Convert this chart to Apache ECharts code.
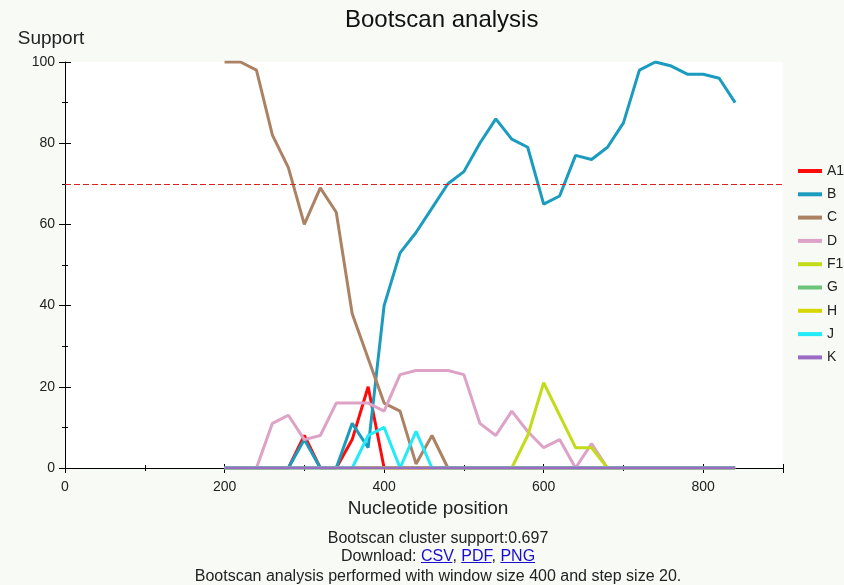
<!DOCTYPE html>
<html>
<head>
<meta charset="utf-8">
<script src="https://cdn.jsdelivr.net/npm/echarts@6/dist/echarts.min.js"></script>
<style>
  html, body { margin: 0; padding: 0; background: #f8faf6; }
  #chart { position: absolute; left: 0; top: 0; width: 844px; height: 585px; }
  .foot { position: absolute; left: 16px; width: 844px; text-align: center;
          font-family: "Liberation Sans", Arial, sans-serif; font-size: 16px; color: #222; line-height: 19px; }
  .foot a { color: #1a0dcc; text-decoration: underline; }
</style>
</head>
<body>
<div id="chart"></div>
<div class="foot" style="top:528px">Bootscan cluster support:0.697</div>
<div class="foot" style="top:546px">Download: <a href="#">CSV</a>, <a href="#">PDF</a>, <a href="#">PNG</a></div>
<div class="foot" style="top:566px">Bootscan analysis performed with window size 400 and step size 20.</div>
<script>
// Nucleotide positions (window midpoints)
const positions = [200,220,240,260,280,300,320,340,360,380,400,420,440,460,480,500,520,540,560,580,600,620,640,660,680,700,720,740,760,780,800,820,840];
const seriesNames = ['A1','B','C','D','F1','G','H','J','K'];
const A1 = [0,0,0,0,0,8,0,0,7,20,0,0,0,0,0,0,0,0,0,0,0,0,0,0,0,0,0,0,0,0,0,0,0];
const B  = [0,0,0,0,0,7,0,0,11,5,40,53,58,64,70,73,80,86,81,79,65,67,77,76,79,85,98,100,99,97,97,96,90];
const C  = [100,100,98,82,74,60,69,63,38,27,16,14,1,8,0,0,0,0,0,0,0,0,0,0,0,0,0,0,0,0,0,0,0];
const D  = [0,0,0,11,13,7,8,16,16,16,14,23,24,24,24,23,11,8,14,9,5,7,0,6,0,0,0,0,0,0,0,0,0];
const F1 = [0,0,0,0,0,0,0,0,0,0,0,0,0,0,0,0,0,0,0,8,21,13,5,5,0,0,0,0,0,0,0,0,0];
const G  = [0,0,0,0,0,0,0,0,0,0,0,0,0,0,0,0,0,0,0,0,0,0,0,0,0,0,0,0,0,0,0,0,0];
const H  = [0,0,0,0,0,0,0,0,0,0,0,0,0,0,0,0,0,0,0,0,0,0,0,0,0,0,0,0,0,0,0,0,0];
const J  = [0,0,0,0,0,0,0,0,0,8,10,0,9,0,0,0,0,0,0,0,0,0,0,0,0,0,0,0,0,0,0,0,0];
const K  = [0,0,0,0,0,0,0,0,0,0,0,0,0,0,0,0,0,0,0,0,0,0,0,0,0,0,0,0,0,0,0,0,0];
const threshold = 70;
const xTicks = [0,200,400,600,800];
const yTicks = [0,20,40,60,80,100];

const colors = ['#ff0a0a','#1b9bbd','#ab8264','#dda2c6','#c2dc1a','#6cc47a','#d6d600','#22eaf8','#9b6cc6'];
const values = [A1,B,C,D,F1,G,H,J,K];
const FONT = '"Liberation Sans", Arial, sans-serif';

const chart = echarts.init(document.getElementById('chart'), null, {renderer:'canvas'});

const series = seriesNames.map((n, i) => {
  const s = {
    name: n,
    type: 'line',
    data: positions.map((p, k) => [p, values[i][k]]),
    symbol: 'none',
    lineStyle: { width: 3, color: colors[i] },
    itemStyle: { color: colors[i] },
    z: 2 + i,
    animation: false
  };
  if (i === 0) {
    s.markLine = {
      silent: true, symbol: 'none', label: { show: false },
      lineStyle: { color: '#e02020', type: [6, 3], width: 1 },
      data: [{ yAxis: threshold }],
      animation: false
    };
  }
  return s;
});

const fontC = '#222';
chart.setOption({
  animation: false,
  textStyle: { fontFamily: FONT },
  title: {
    text: 'Bootscan analysis', left: 340, top: 3,
    textStyle: { fontFamily: FONT, fontSize: 24, fontWeight: 'normal', color: '#111' }
  },
  grid: { left: 65, right: 61, top: 62, bottom: 117, show: true, backgroundColor: '#ffffff', borderWidth: 0 },
  legend: {
    orient: 'vertical', left: 793, top: 159,
    icon: 'rect', itemWidth: 24, itemHeight: 4, itemGap: 9.3,
    data: seriesNames,
    textStyle: { fontFamily: FONT, fontSize: 14, color: fontC, lineHeight: 14 }
  },
  xAxis: [{
    type: 'value', min: 0, max: 900, interval: 200,
    name: 'Nucleotide position', nameLocation: 'middle', nameGap: 25,
    nameTextStyle: { fontFamily: FONT, fontSize: 19, color: '#222', padding: [0, 0, 0, 8] },
    axisLine: { show: true, lineStyle: { color: '#000', width: 1 } },
    axisTick: { show: true, length: 5, lineStyle: { color: '#000' } },
    minorTick: { show: true, splitNumber: 2, length: 3, lineStyle: { color: '#000' } },
    axisLabel: { margin: 12, fontSize: 14, color: fontC, fontFamily: FONT,
      customValues: xTicks },
    splitLine: { show: false }
  }, {
    type: 'value', min: 0, max: 900, interval: 200, position: 'bottom',
    axisLine: { show: false }, axisLabel: { show: false }, splitLine: { show: false },
    axisTick: { show: true, inside: true, length: 4, lineStyle: { color: '#000' } },
    minorTick: { show: true, splitNumber: 2, length: 3, lineStyle: { color: '#000' } }
  }],
  yAxis: [{
    type: 'value', min: 0, max: 100, interval: 20,
    name: 'Support', nameLocation: 'end', nameGap: 14,
    nameTextStyle: { fontFamily: FONT, fontSize: 19, color: '#222', align: 'center', padding: [0, 28, 0, 0] },
    axisLine: { show: true, lineStyle: { color: '#000', width: 1 } },
    axisTick: { show: true, length: 6, lineStyle: { color: '#000' } },
    minorTick: { show: true, splitNumber: 2, length: 3, lineStyle: { color: '#000' } },
    axisLabel: { margin: 10, fontSize: 14, color: fontC, fontFamily: FONT, customValues: yTicks },
    splitLine: { show: false }
  }, {
    type: 'value', min: 0, max: 100, interval: 20, position: 'left',
    axisLine: { show: false }, axisLabel: { show: false }, splitLine: { show: false },
    axisTick: { show: true, inside: true, length: 6, lineStyle: { color: '#000' } },
    minorTick: { show: true, splitNumber: 2, length: 3, lineStyle: { color: '#000' } }
  }],
  series: series
});
</script>
</body>
</html>
